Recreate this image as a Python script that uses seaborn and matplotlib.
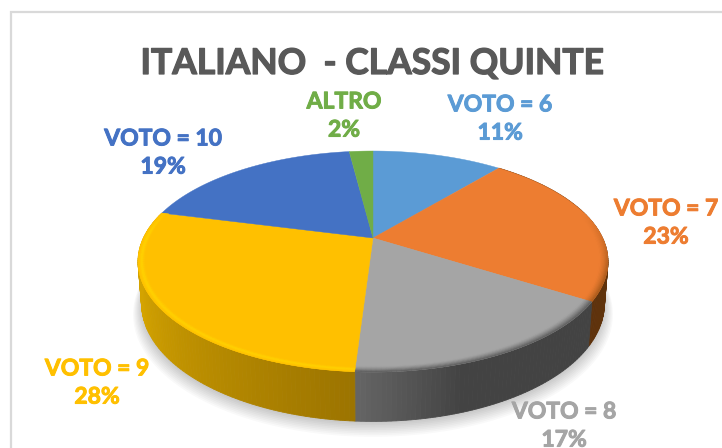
import numpy as np
import matplotlib
matplotlib.use("Agg")
import matplotlib.pyplot as plt
import matplotlib.patheffects as pe
from matplotlib.colors import to_rgb
from matplotlib.patches import Polygon, Rectangle
from matplotlib.transforms import Affine2D
import seaborn as sns

# ---- data ----
categories = ["VOTO = 6", "VOTO = 7", "VOTO = 8", "VOTO = 9", "VOTO = 10", "ALTRO"]
values = [11, 23, 17, 28, 19, 2]
title_text = "ITALIANO  - CLASSI QUINTE"
slice_colors = ["#5B9BD5", "#ED7D31", "#A5A5A5", "#FFC000", "#4472C4", "#70AD47"]

# ---- style ----
label_xy = [(500, 119), (666, 223), (564, 426), (97, 383), (163, 153), (344, 116)]
side_shades = {1: ("#6B3A0E", "#5E320C"), 2: ("#666666", "#434343"), 3: ("#9C7400", "#D4A300")}
bevel_colors = {1: "#A85A1C", 2: "#5A5A5A", 3: "#FFD800"}

sns.set_theme(style="white")
plt.rcParams["font.family"] = ["Lato", "DejaVu Sans"]

CX, CY = 373.0, 238.0
KV, AY, BX = 0.2127, 105.5, 229.6
DEPTH, BOTTOM_SCALE = 40.5, 0.985


def project(u, v, lower=False):
    u, v = np.asarray(u, float), np.asarray(v, float)
    d = 1 + KV * v
    x = BX * u / d
    y = AY * v / d
    if lower:
        return CX + x * BOTTOM_SCALE, CY - y * BOTTOM_SCALE + DEPTH / d
    return CX + x, CY - y


def blend(a, b, t):
    a, b = np.array(to_rgb(a)), np.array(to_rgb(b))
    return tuple(a + (b - a) * t)


fig = plt.figure(figsize=(7.22, 4.48), dpi=100, facecolor="white")
ax = fig.add_axes([0, 0, 1, 1])

palette = sns.color_palette(slice_colors)
wedges, _ = ax.pie(values, colors=palette, startangle=90, counterclock=False, radius=1)

polys = []
for w in wedges:
    t = w.get_patch_transform() + Affine2D().scale(2000)
    polys.append(t.transform_path(w.get_path()).to_polygons()[0] / 2000)
    w.remove()

ax.set_aspect("auto")
ax.set_xlim(0, 722)
ax.set_ylim(448, 0)
ax.axis("off")

# chart frame, running off the picture on the right and bottom
ax.add_patch(Rectangle((11, 12), 800, 500, fc="white", ec="#D9D9D9", lw=1.6, zorder=0))

# soft shadow under the pie
full = np.radians(np.arange(0, 361, 2))
for grow, off in zip(np.linspace(1.035, 1.0, 9), np.linspace(9, 2, 9)):
    sx, sy = project(np.cos(full) * grow, np.sin(full) * grow, lower=True)
    ax.add_patch(Polygon(np.c_[sx, sy + off], fc="#000000", alpha=0.022, ec="none", zorder=1))

# slice angles from the values, clockwise from 12 o'clock
edges = 360 * np.cumsum([0] + values) / sum(values)

# side wall
for i, (a0, a1) in enumerate(zip(edges[:-1], edges[1:])):
    if i not in side_shades:
        continue
    c0, c1 = side_shades[i]
    grid = np.arange(a0, a1 + 1, 1.0)
    grid[-1] = a1
    for g0, g1 in zip(grid[:-1], grid[1:]):
        th = np.radians([g0, g1])
        u, v = np.sin(th), np.cos(th)
        xt, yt = project(u, v)
        xb, yb = project(u, v, lower=True)
        if i == 2:
            f = np.clip((a1 - g0) / 22, 0, 1)
            col = blend(c1, c0, 1 - f)
        elif i == 3:
            col = blend(c0, c1, np.clip((g0 - a0) / 65, 0, 1))
        else:
            col = blend(c0, c1, (g0 - a0) / (a1 - a0))
        ax.add_patch(Polygon(np.c_[[xt[0], xt[1], xb[1], xb[0]], [yt[0], yt[1], yb[1], yb[0]]],
                             fc=col, ec=col, lw=0.6, zorder=2))

# top surface
for i, (poly, col) in enumerate(zip(polys, palette)):
    x, y = project(poly[:, 0], poly[:, 1])
    ax.add_patch(Polygon(np.c_[x, y], fc=col, ec=col, lw=0.3, zorder=3))

# rounded bevel along the front rim
radii = np.linspace(0.965, 1.0, 8)
for i, (a0, a1) in enumerate(zip(edges[:-1], edges[1:])):
    if i not in bevel_colors:
        continue
    grid = np.arange(a0, a1 + 1, 1.0)
    grid[-1] = a1
    base = slice_colors[i]
    for g0, g1 in zip(grid[:-1], grid[1:]):
        th = np.radians([g0, g1])
        u, v = np.sin(th), np.cos(th)
        strength = np.clip((0.25 - v.mean()) / 0.6, 0, 1)
        if i == 3:
            strength = 0.75 * np.clip((0.35 - v.mean()) / 0.3, 0, 1)
        if strength <= 0:
            continue
        for k, (r0, r1) in enumerate(zip(radii[:-1], radii[1:])):
            tt = (k + 0.5) / (len(radii) - 1)
            if i == 3:
                amt = np.exp(-((tt - 0.6) / 0.25) ** 2)
            else:
                amt = tt ** 1.5
            col = blend(base, bevel_colors[i], amt * strength)
            xa, ya = project(u * r0, v * r0)
            xo, yo = project(u * r1, v * r1)
            ax.add_patch(Polygon(np.c_[[xa[0], xa[1], xo[1], xo[0]], [ya[0], ya[1], yo[1], yo[0]]],
                                 fc=col, ec=col, lw=0.3, zorder=4))

# texts
ax.text(372, 64, title_text, ha="center", va="center", fontsize=25.5, fontweight="bold",
        color="#595959", zorder=6,
        path_effects=[pe.withStroke(linewidth=0.9, foreground="#595959")])
for name, val, (lx, ly), col in zip(categories, values, label_xy, slice_colors):
    ax.text(lx, ly, f"{name}\n{val}%", ha="center", va="center", fontsize=16.5, fontweight="bold",
            color=col, linespacing=1.42, zorder=6, clip_on=False,
            path_effects=[pe.withStroke(linewidth=0.7, foreground=col)])

fig.savefig("out.png", dpi=100)
